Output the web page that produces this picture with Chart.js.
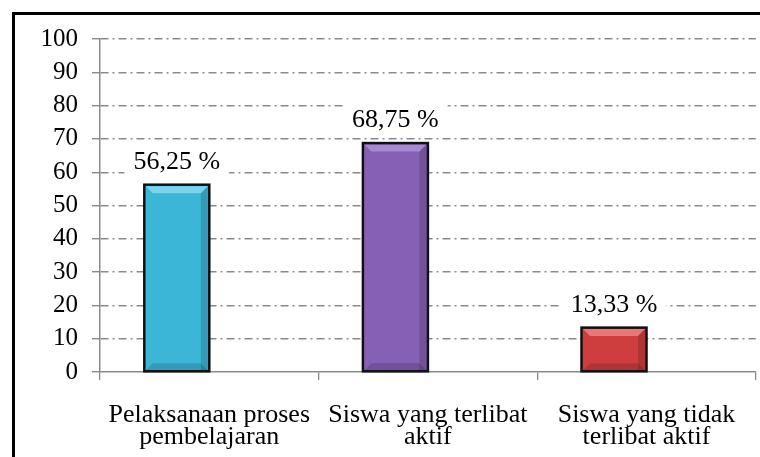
<!DOCTYPE html>
<html>
<head>
<meta charset="utf-8">
<script src="https://cdn.jsdelivr.net/npm/chart.js@4.4.1/dist/chart.umd.min.js"></script>
<style>
  html, body { margin: 0; padding: 0; background: #fff; overflow: hidden; }
  #frame { position: absolute; left: 12px; top: 12px; width: 800px; height: 500px; border: 3px solid #000; box-sizing: border-box; }
  #wrap { position: absolute; left: 0; top: 0; width: 760px; height: 457px; }
</style>
</head>
<body>
<div id="frame"></div>
<div id="wrap"><canvas id="chart"></canvas></div>
<script>
// data
var categories = [
  ['Pelaksanaan proses', 'pembelajaran'],
  ['Siswa yang terlibat', 'aktif'],
  ['Siswa yang tidak', 'terlibat aktif']
];
var values = [56.25, 68.75, 13.33];
var emptySeries = [null, null, null]; // second (empty) excel series, pushes bars to the left
var barColors = ['#3cb6d7', '#8660b5', '#cf3e3f'];
var bevelColors = ['#7ad3ec', '#a788d2', '#e87878'];
var yTicks = [0, 10, 20, 30, 40, 50, 60, 70, 80, 90, 100];

var serif = "'Liberation Serif', 'Times New Roman', serif";
var gridGray = '#8a8a8a';

// label with white box above each bar
var valueLabels = {
  id: 'valueLabels',
  afterDatasetsDraw: function(chart){
    var ctx = chart.ctx;
    var meta = chart.getDatasetMeta(0);
    ctx.save();
    ctx.font = '26px ' + serif;
    ctx.textAlign = 'center';
    ctx.textBaseline = 'alphabetic';
    meta.data.forEach(function(bar, i){
      var txt = values[i].toFixed(2).replace('.', ',') + ' %';
      var w = ctx.measureText(txt).width;
      var base = bar.y - 16;
      ctx.fillStyle = '#fff';
      ctx.fillRect(bar.x - w/2 - 9, base - 25, w + 18, 34);
      ctx.fillStyle = '#000';
      ctx.fillText(txt, bar.x, base);
    });
    ctx.restore();
  }
};

// light bevel on the bars (excel style)
var bevel = {
  id: 'bevel',
  afterDatasetDraw: function(chart, args){
    if(args.index !== 0) return;
    var ctx = chart.ctx;
    args.meta.data.forEach(function(bar, i){
      var l = bar.x - bar.width/2 + 1.5, r = bar.x + bar.width/2 - 1.5;
      var t = bar.y + 1.5, b = bar.base - 1;
      var d = 7;
      ctx.save();
      ctx.fillStyle = bevelColors[i];
      ctx.beginPath();
      ctx.moveTo(l, t); ctx.lineTo(r, t); ctx.lineTo(r - d, t + d); ctx.lineTo(l + d, t + d);
      ctx.closePath(); ctx.fill();
      ctx.globalAlpha = 0.15;
      ctx.fillStyle = '#000';
      ctx.beginPath();
      ctx.moveTo(r, t); ctx.lineTo(r, b); ctx.lineTo(r - d, b); ctx.lineTo(r - d, t + d);
      ctx.closePath(); ctx.fill();
      ctx.beginPath();
      ctx.moveTo(l, b); ctx.lineTo(r, b); ctx.lineTo(r - d, b - d); ctx.lineTo(l + d, b - d);
      ctx.closePath(); ctx.fill();
      ctx.restore();
      ctx.save();
      ctx.strokeStyle = '#111';
      ctx.lineWidth = 2.5;
      ctx.strokeRect(bar.x - bar.width/2, bar.y, bar.width, bar.base - bar.y);
      ctx.restore();
    });
  }
};

new Chart(document.getElementById('chart'), {
  type: 'bar',
  data: {
    labels: categories,
    datasets: [
      { data: values, backgroundColor: barColors, borderWidth: 0, barThickness: 65 },
      { data: emptySeries, backgroundColor: '#999', borderWidth: 0, barThickness: 65 }
    ]
  },
  options: {
    responsive: true,
    maintainAspectRatio: false,
    animation: false,
    layout: { padding: { left: 0, top: 39, right: 4, bottom: 0 } },
    plugins: { legend: { display: false }, tooltip: { enabled: false } },
    scales: {
      x: {
        grid: { offset: true, drawOnChartArea: false, drawTicks: true, tickLength: 8, color: gridGray, lineWidth: 1.3 },
        border: { color: gridGray, width: 1.5 },
        ticks: { color: '#000', padding: 24, maxRotation: 0, autoSkip: false, font: { family: serif, size: 26, lineHeight: 0.85 } },
        afterFit: function(s){ s.height = 85; }
      },
      y: {
        min: 0, max: 100,
        afterBuildTicks: function(s){ s.ticks = yTicks.map(function(v){ return { value: v }; }); },
        grid: {
          color: function(c){ return c.tick && c.tick.value === 0 ? 'rgba(0,0,0,0)' : gridGray; },
          lineWidth: 1.4, tickLength: 8, tickBorderDash: [], tickColor: gridGray
        },
        border: { color: gridGray, width: 1.5, dash: [8, 4, 2, 4] },
        ticks: { color: '#000', padding: 14, font: { family: serif, size: 25 } },
        afterFit: function(s){ s.width = 100; }
      }
    }
  },
  plugins: [bevel, valueLabels]
});
</script>
</body>
</html>
